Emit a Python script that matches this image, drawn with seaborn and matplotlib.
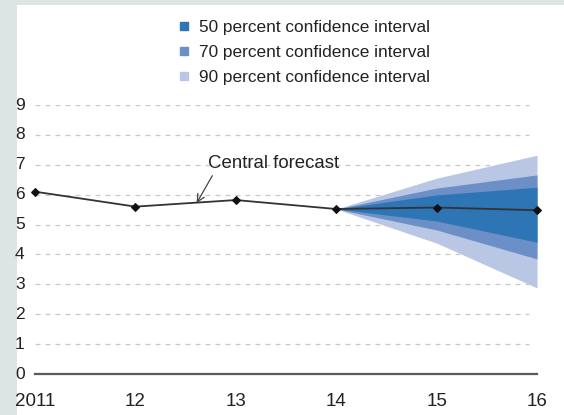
import matplotlib
matplotlib.use("Agg")
import matplotlib.pyplot as plt
from matplotlib.lines import Line2D
from matplotlib.patches import Rectangle
import seaborn as sns
import pandas as pd

# DATA
years = [2011, 2012, 2013, 2014, 2015, 2016]
tick_labels = ['2011', '12', '13', '14', '15', '16']
central = [6.1, 5.6, 5.82, 5.52, 5.57, 5.48]
# fan chart bands start at the last outturn (2014)
fan_years = [2014, 2015, 2016]
ci50_low = [5.52, 5.12, 4.41]
ci50_high = [5.52, 5.99, 6.25]
ci70_low = [5.52, 4.82, 3.85]
ci70_high = [5.52, 6.22, 6.66]
ci90_low = [5.52, 4.38, 2.88]
ci90_high = [5.52, 6.55, 7.32]
band_labels = ['50 percent confidence interval',
               '70 percent confidence interval',
               '90 percent confidence interval']
band_colors = ['#2e75b6', '#6b8fc6', '#b9c7e4']

df = pd.DataFrame({'year': years, 'value': central})

sns.set_style('white')
plt.rcParams['font.family'] = ['Liberation Sans', 'DejaVu Sans']

fig = plt.figure(figsize=(5.64, 4.15), dpi=100)
fig.patch.set_facecolor('#dce5e3')
# white panel inside the grey-green frame
fig.patches.append(Rectangle((17 / 564, 0), 1, 1 - 5 / 415, transform=fig.transFigure,
                             facecolor='white', edgecolor='none', zorder=-10))

ax = fig.add_axes([35 / 564, 41 / 415, 502 / 564, 269 / 415])
ax.set_facecolor('none')

# bands, widest first
ax.fill_between(fan_years, ci90_low, ci90_high, color=band_colors[2], lw=0, zorder=2, clip_on=False)
ax.fill_between(fan_years, ci70_low, ci70_high, color=band_colors[1], lw=0, zorder=3, clip_on=False)
ax.fill_between(fan_years, ci50_low, ci50_high, color=band_colors[0], lw=0, zorder=4, clip_on=False)

sns.lineplot(data=df, x='year', y='value', ax=ax, color='#333333', lw=1.3,
             marker='D', markersize=4, markeredgecolor='#111111', markerfacecolor='#111111',
             zorder=5, clip_on=False)

ax.set_xlim(2011, 2016)
ax.set_ylim(0, 9)
ax.set_xticks(years)
ax.set_xticklabels(tick_labels)
ax.set_yticks(range(0, 10))
ax.set_xlabel('')
ax.set_ylabel('')

# dashed horizontal grid
for y in range(1, 10):
    ax.axhline(y, xmin=0, xmax=0.985, color='#c8c8c8', lw=0.9, ls=(0, (4, 4)), zorder=1)

for s in ['top', 'right', 'left']:
    ax.spines[s].set_visible(False)
ax.spines['bottom'].set_color('#5a5a5a')
ax.spines['bottom'].set_linewidth(1.6)
ax.tick_params(axis='x', direction='out', length=4, width=1, color='#5a5a5a',
               labelsize=13.5, pad=10, labelcolor='#222222')
ax.tick_params(axis='y', length=0, labelsize=12.5, pad=7.5, labelcolor='#222222')
for lab in ax.get_yticklabels():
    lab.set_verticalalignment('center')

# annotation
ax.annotate('Central forecast', xy=(2012.61, 5.72), xytext=(2012.72, 7.03),
            fontsize=13.4, color='#222222', ha='left', va='center',
            arrowprops=dict(arrowstyle='->', color='#444444', lw=0.9,
                            shrinkA=0, shrinkB=0,
                            relpos=(0.05, 0.0)))

# legend
handles = [Line2D([], [], ls='none', marker='s', markersize=6, color=c) for c in band_colors]
fig.legend(handles, band_labels, loc='upper left', bbox_to_anchor=(168 / 564, 1 - 11 / 415),
           frameon=False, fontsize=12.4, handlelength=0.8, handletextpad=0.5,
           labelspacing=0.6, borderpad=0, labelcolor='#222222')

plt.savefig('out.png', dpi=100, facecolor=fig.get_facecolor())
